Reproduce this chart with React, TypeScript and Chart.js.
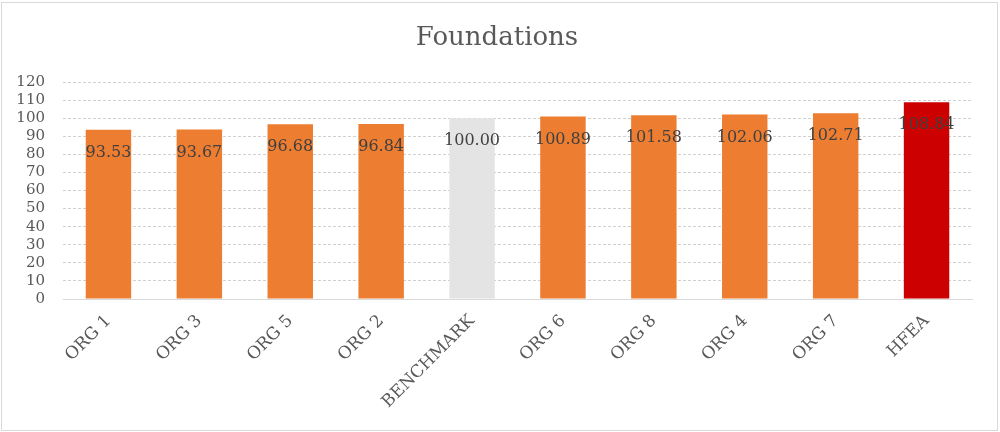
import React, { useEffect, useRef } from "react";
import { Chart, registerables } from "chart.js";

Chart.register(...registerables);

const categories = ["ORG 1", "ORG 3", "ORG 5", "ORG 2", "BENCHMARK", "ORG 6", "ORG 8", "ORG 4", "ORG 7", "HFEA"];
const values = [93.53, 93.67, 96.68, 96.84, 100.0, 100.89, 101.58, 102.06, 102.71, 108.84];
const barColors = ["#ED7D31", "#ED7D31", "#ED7D31", "#ED7D31", "#E4E4E4", "#ED7D31", "#ED7D31", "#ED7D31", "#ED7D31", "#CC0000"];
const chartTitle = "Foundations";

const SERIF = "'DejaVu Serif', 'Liberation Serif', serif";

const overlayPlugin = {
  id: "overlay",
  afterDatasetsDraw(chart: any) {
    const ctx = chart.ctx;
    const meta = chart.getDatasetMeta(0);
    ctx.save();
    ctx.font = `16px ${SERIF}`;
    ctx.fillStyle = "#404040";
    ctx.textAlign = "center";
    ctx.textBaseline = "middle";
    meta.data.forEach((bar: any, i: number) => {
      ctx.fillText(values[i].toFixed(2), bar.x, bar.y + 23);
    });
    ctx.restore();
  },
  afterDraw(chart: any) {
    const ctx = chart.ctx;
    ctx.save();
    ctx.font = `26px ${SERIF}`;
    ctx.fillStyle = "#595959";
    ctx.textAlign = "center";
    ctx.textBaseline = "middle";
    ctx.fillText(chartTitle, 497, 38);
    ctx.restore();
  },
};

export default function App() {
  const ref = useRef<HTMLCanvasElement>(null);
  useEffect(() => {
    const chart = new Chart(ref.current!, {
      type: "bar",
      data: {
        labels: categories,
        datasets: [
          {
            data: values,
            backgroundColor: barColors,
            barPercentage: 0.5,
            categoryPercentage: 1,
          },
        ],
      },
      options: {
        animation: false,
        responsive: false,
        layout: { padding: { top: 82, right: 28, left: 0, bottom: 0 } },
        plugins: { legend: { display: false }, tooltip: { enabled: false }, title: { display: false } },
        scales: {
          x: {
            grid: { display: false, drawTicks: false },
            border: { display: true, color: "#d9d9d9" },
            ticks: {
              maxRotation: 45,
              minRotation: 45,
              autoSkip: false,
              padding: 12,
              color: "#595959",
              font: { family: SERIF, size: 17 },
            },
            afterFit(scale: any) {
              scale.height = 133;
            },
          },
          y: {
            min: 0,
            max: 120,
            ticks: {
              stepSize: 10,
              autoSkip: false,
              padding: 18,
              color: "#595959",
              font: { family: SERIF, size: 15 },
            },
            grid: { color: "#d0d0d0", drawTicks: false },
            border: { display: false, dash: [3, 2] },
            afterFit(scale: any) {
              scale.width = 63;
            },
          },
        },
      },
      plugins: [overlayPlugin],
    });
    return () => chart.destroy();
  }, []);
  return (
    <div style={{ position: "fixed", left: 0, top: 0, width: 1000, height: 432, background: "#fff" }}>
      <canvas ref={ref} width={1000} height={432} style={{ position: "absolute", left: 0, top: 0 }} />
      <div
        style={{
          position: "absolute",
          left: 1,
          top: 2,
          width: 997,
          height: 429,
          border: "1px solid #d9d9d9",
          boxSizing: "border-box",
          pointerEvents: "none",
        }}
      />
    </div>
  );
}
